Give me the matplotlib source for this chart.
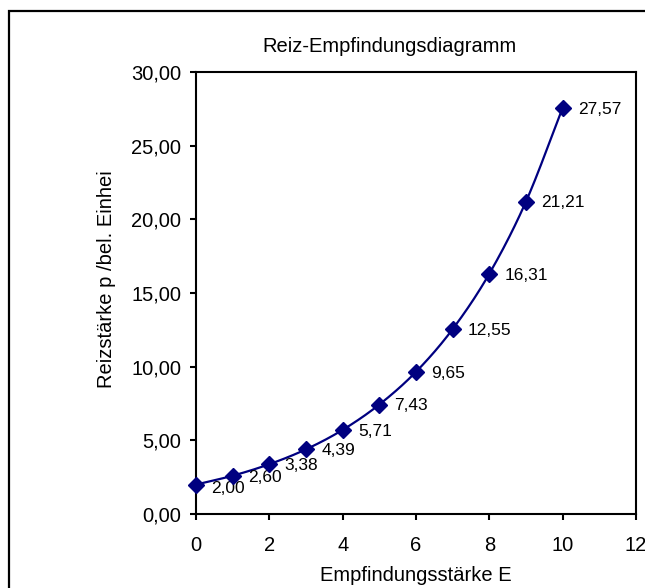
import numpy as np
import matplotlib
matplotlib.use("Agg")
import matplotlib.pyplot as plt
from matplotlib.patches import Rectangle

plt.rcParams['font.family'] = ['Liberation Sans', 'DejaVu Sans']

# data
E_values = [0, 1, 2, 3, 4, 5, 6, 7, 8, 9, 10]
p_values = [2.00, 2.60, 3.38, 4.39, 5.71, 7.43, 9.65, 12.55, 16.31, 21.21, 27.57]
x_ticks = [0, 2, 4, 6, 8, 10, 12]
y_ticks = [0, 5, 10, 15, 20, 25, 30]
title = "Reiz-Empfindungsdiagramm"
xlabel = "Empfindungsstärke E"
ylabel = "Reizstärke p /bel. Einhei"

W, H = 645, 588
fig = plt.figure(figsize=(W / 100, H / 100), dpi=100)
fig.patch.set_facecolor('white')

# outer chart border
fig.add_artist(Rectangle((8.5 / W, -0.1), 1.2, (H - 10.5) / H + 0.1, transform=fig.transFigure,
                         fill=False, edgecolor='black', linewidth=1.6))

ax = fig.add_axes([196 / W, (H - 514) / H, (636 - 196) / W, (514 - 72) / H])
ax.set_xlim(0, 12)
ax.set_ylim(0, 30)

# smooth curve (Catmull-Rom style, like Excel smoothed lines)
x = np.array(E_values, dtype=float)
y = np.array(p_values, dtype=float)
px = np.concatenate([[2 * x[0] - x[1]], x, [2 * x[-1] - x[-2]]])
py = np.concatenate([[2 * y[0] - y[1]], y, [2 * y[-1] - y[-2]]])
cx, cy = [], []
t = np.linspace(0, 1, 30)
for i in range(1, len(px) - 2):
    p0, p1, p2, p3 = px[i - 1], px[i], px[i + 1], px[i + 2]
    q0, q1, q2, q3 = py[i - 1], py[i], py[i + 1], py[i + 2]
    b1x = p1 + (p2 - p0) / 6
    b2x = p2 - (p3 - p1) / 6
    b1y = q1 + (q2 - q0) / 6
    b2y = q2 - (q3 - q1) / 6
    bx = (1 - t) ** 3 * p1 + 3 * (1 - t) ** 2 * t * b1x + 3 * (1 - t) * t ** 2 * b2x + t ** 3 * p2
    by = (1 - t) ** 3 * q1 + 3 * (1 - t) ** 2 * t * b1y + 3 * (1 - t) * t ** 2 * b2y + t ** 3 * q2
    cx.extend(bx)
    cy.extend(by)
ax.plot(cx, cy, color='#000080', linewidth=1.6, clip_on=False, zorder=3)
ax.plot(x, y, linestyle='none', marker='D', markersize=8, color='#000080', clip_on=False, zorder=4)

for xi, yi in zip(E_values, p_values):
    dy = -2.5 if xi == 0 else -1
    ax.annotate(f"{yi:.2f}".replace('.', ','), (xi, yi), xytext=(11, dy), textcoords='offset points',
                ha='left', va='center', fontsize=12.5, color='black')

ax.set_xticks(x_ticks)
ax.set_xticklabels([str(v) for v in x_ticks])
ax.set_yticks(y_ticks)
ax.set_yticklabels([f"{v:.2f}".replace('.', ',') for v in y_ticks])
ax.tick_params(direction='out', length=4.5, width=1.5, labelsize=14.5, color='black')
ax.tick_params(axis='y', pad=6)
ax.tick_params(axis='x', pad=11.5)
for s in ax.spines.values():
    s.set_linewidth(1.5)
    s.set_color('black')

fig.text(389 / W, 1 - 52 / H, title, ha='center', va='baseline', fontsize=14.5)
fig.text(415.5 / W, 1 - 581 / H, xlabel, ha='center', va='baseline', fontsize=14.5)
fig.text(107 / W, 1 - 279 / H, ylabel, ha='center', va='center', rotation=90, fontsize=14.5)

fig.savefig("out.png", dpi=100)
